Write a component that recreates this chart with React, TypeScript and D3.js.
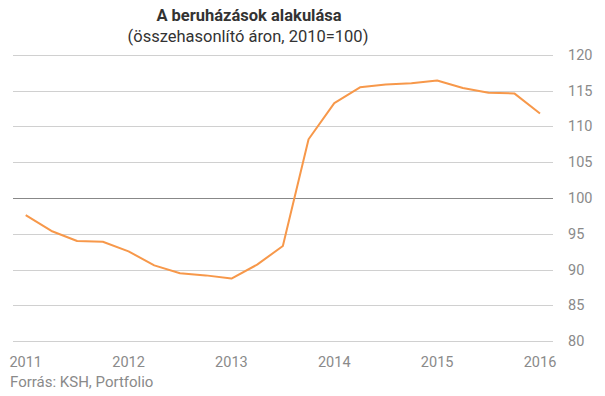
import React, { useEffect, useRef } from "react";
import * as d3 from "d3";

const years = [2011, 2012, 2013, 2014, 2015, 2016];
const quarters = [
  "2011Q1","2011Q2","2011Q3","2011Q4",
  "2012Q1","2012Q2","2012Q3","2012Q4",
  "2013Q1","2013Q2","2013Q3","2013Q4",
  "2014Q1","2014Q2","2014Q3","2014Q4",
  "2015Q1","2015Q2","2015Q3","2015Q4",
  "2016Q1",
];
const values = [
  97.6, 95.4, 94.0, 93.9,
  92.55, 90.6, 89.5, 89.2,
  88.75, 90.7, 93.3, 108.2,
  113.25, 115.45, 115.85, 116.0,
  116.4, 115.35, 114.7, 114.6,
  111.8,
];
const yTicks = [80, 85, 90, 95, 100, 105, 110, 115, 120];

const W = 605, H = 396;

export default function App() {
  const ref = useRef<SVGSVGElement>(null);
  useEffect(() => {
    const svg = d3.select(ref.current);
    svg.selectAll("*").remove();
    const x = d3.scaleLinear().domain([0, quarters.length - 1]).range([25.7, 540]);
    const y = d3.scaleLinear().domain([80, 120]).range([341.3, 54.7]);
    const font = "Roboto, sans-serif";

    // gridlines
    svg.append("g").selectAll("line").data(yTicks).join("line")
      .attr("x1", 13).attr("x2", 553)
      .attr("y1", d => Math.round(y(d)) + 0.5).attr("y2", d => Math.round(y(d)) + 0.5)
      .attr("stroke", d => d === 100 ? "#888888" : "#d0d0d0")
      .attr("stroke-width", 1);

    // y labels
    svg.append("g").selectAll("text").data(yTicks).join("text")
      .attr("x", 568).attr("y", d => y(d) + 5)
      .attr("font-family", font).attr("font-size", 14.5)
      .attr("fill", "#8a8a8a")
      .text(d => String(d));

    // x labels
    svg.append("g").selectAll("text").data(years).join("text")
      .attr("x", d => x(quarters.indexOf(d + "Q1")))
      .attr("y", 367)
      .attr("text-anchor", "middle")
      .attr("font-family", font).attr("font-size", 14.5)
      .attr("fill", "#8a8a8a")
      .text(d => String(d));

    // line
    const line = d3.line<number>().x((_, i) => x(i)).y(d => y(d));
    svg.append("path").datum(values)
      .attr("d", line)
      .attr("fill", "none")
      .attr("stroke", "#f7984a")
      .attr("stroke-width", 2)
      .attr("stroke-linejoin", "round");

    // title
    svg.append("text").attr("x", 249).attr("y", 21)
      .attr("text-anchor", "middle").attr("font-family", font)
      .attr("font-weight", 700).attr("font-size", 16.5)
      .attr("fill", "#333333").text("A beruházások alakulása");
    svg.append("text").attr("x", 248).attr("y", 42)
      .attr("text-anchor", "middle").attr("font-family", font)
      .attr("font-size", 16.5)
      .attr("fill", "#333333").text("(összehasonlító áron, 2010=100)");

    // source
    svg.append("text").attr("x", 10).attr("y", 387)
      .attr("font-family", font).attr("font-size", 15)
      .attr("fill", "#8a8a8a").text("Forrás: KSH, Portfolio");
  }, []);
  return (
    <svg ref={ref} width={W} height={H}
      style={{ position: "absolute", left: 0, top: 0, background: "#fff" }} />
  );
}
